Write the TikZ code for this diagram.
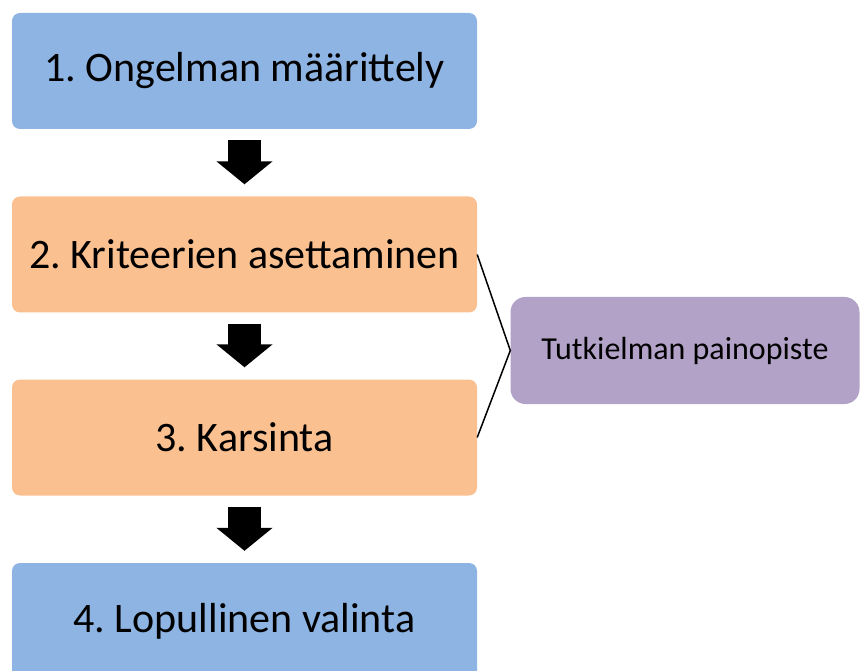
\documentclass[tikz,border=0pt]{standalone}
\usepackage{fontspec}
\setmainfont{Carlito}
\usepackage{tikz}
\usetikzlibrary{arrows.meta}
\frenchspacing

\definecolor{stepblue}{HTML}{8EB4E3}
\definecolor{steporange}{HTML}{FAC090}
\definecolor{focuspurple}{HTML}{B3A2C7}

\tikzset{
  phase/.style={rectangle, rounded corners=8pt, minimum width=465pt, minimum height=116pt,
    inner sep=0pt, font=\fontsize{42}{50}\selectfont},
  downarrow/.style={line width=33pt, -{Triangle[length=23pt,width=55pt]},
    shorten <=11pt, shorten >=12pt},
}

\begin{document}
\begin{tikzpicture}[x=1pt,y=-1pt]
\useasboundingbox (0,0) rectangle (860,671);

%% phases
\node[phase, fill=stepblue] (b1) at (244.5,71) {1. Ongelman määrittely};
\node[phase, fill=steporange] (b2) at (244.5,254.5) {2. Kriteerien asettaminen};
\node[phase, fill=steporange] (b3) at (244.5,437.5) {3. Karsinta};
\node[phase, fill=stepblue] (b4) at (244.5,621) {4. Lopullinen valinta};

\node[rectangle, rounded corners=15pt, fill=focuspurple, minimum width=349pt, minimum height=107pt,
  inner sep=0pt, font=\fontsize{32}{38}\selectfont] (focus) at (685,350.5) {Tutkielman painopiste};

%%% arrows
\draw[downarrow] (b1) -- (b2);
\draw[downarrow] (b2) -- (b3);
\draw[downarrow] (b3) -- (b4);

\draw[line width=1.5pt] (b2.east) -- (focus.west) -- (b3.east);

\end{tikzpicture}
\end{document}
